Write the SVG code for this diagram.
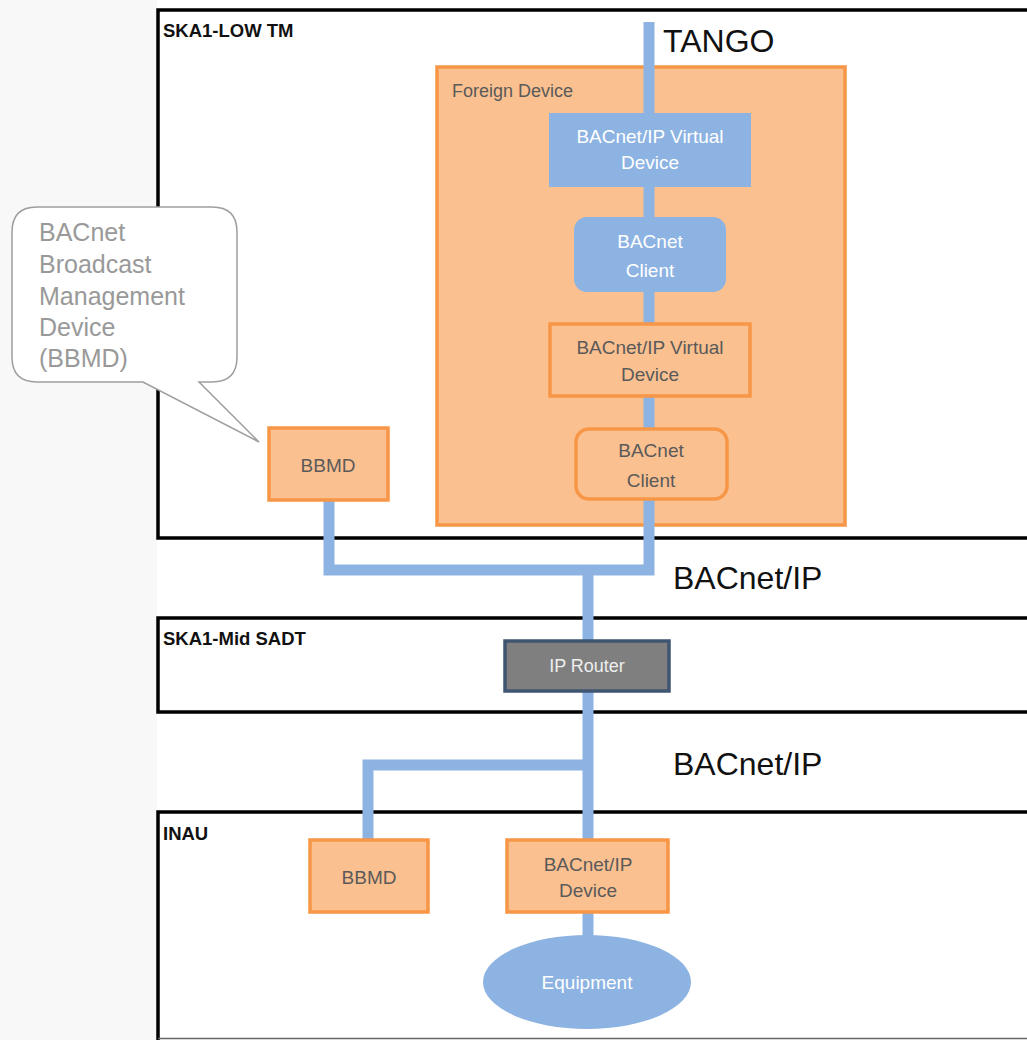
<svg xmlns="http://www.w3.org/2000/svg" width="1027" height="1040" viewBox="0 0 1027 1040">
<style>
text{font-family:"Liberation Sans",Arial,sans-serif}
.frame{fill:#fff;stroke:#000;stroke-width:3.5}
.flabel{font-weight:bold;font-size:18.5px;fill:#111}
.orange{fill:#fac090;stroke:#f79646;stroke-width:3.5}
.blue{fill:#8db3e2;stroke:none}
.wt{fill:#fff;font-size:19px;text-anchor:middle}
.dt{fill:#5a5a5a;font-size:19px;text-anchor:middle}
.big{fill:#111;font-size:32px}
.conn{fill:none;stroke:#8db3e2;stroke-width:11;stroke-linejoin:miter}
.call{fill:#999;font-size:25px}
</style>
<rect x="0" y="0" width="1027" height="1040" fill="#fff"/>
<rect x="0" y="0" width="157" height="1040" fill="#f8f8f8"/>

<g id="frame-low">
<rect class="frame" x="158" y="10" width="880" height="528"/>
<text class="flabel" x="163" y="37">SKA1-LOW TM</text>
</g>
<g id="frame-mid">
<rect class="frame" x="158" y="618" width="880" height="94"/>
<text class="flabel" x="163" y="645">SKA1-Mid SADT</text>
</g>
<g id="frame-inau">
<rect class="frame" x="158" y="812" width="880" height="240"/>
<line x1="158" y1="1038.5" x2="1027" y2="1038.5" stroke="#666" stroke-width="1.5"/>
<text class="flabel" x="163" y="840">INAU</text>
</g>

<g id="foreign-device">
<rect class="orange" x="437" y="67" width="408" height="458"/>
<text x="452" y="97" fill="#5a5a5a" font-size="18">Foreign Device</text>
</g>

<g id="connectors">
<path class="conn" d="M649 22 V570 H329 V500"/>
<path class="conn" d="M588 570 V641"/>
<path class="conn" d="M588 691 V840"/>
<path class="conn" d="M588 765 H368 V840"/>
<path class="conn" d="M588 912 V945"/>
</g>

<g id="tango-label"><text class="big" x="663" y="52" font-size="31">TANGO</text></g>
<g id="bacnetip-label-1"><text class="big" x="673" y="589" font-size="33">BACnet/IP</text></g>
<g id="bacnetip-label-2"><text class="big" x="673" y="775" font-size="33">BACnet/IP</text></g>

<g id="vdev-blue">
<rect class="blue" x="549" y="113" width="202" height="74"/>
<text class="wt" x="650" y="143">BACnet/IP Virtual</text>
<text class="wt" x="650" y="169">Device</text>
</g>
<g id="client-blue">
<rect class="blue" x="574" y="217" width="152" height="75" rx="13"/>
<text class="wt" x="650" y="248">BACnet</text>
<text class="wt" x="650" y="277">Client</text>
</g>
<g id="vdev-orange">
<rect class="orange" x="550" y="324" width="200" height="72"/>
<text class="dt" x="650" y="354">BACnet/IP Virtual</text>
<text class="dt" x="650" y="381">Device</text>
</g>
<g id="client-orange">
<rect class="orange" x="576" y="429" width="151" height="70" rx="13"/>
<text class="dt" x="651" y="457">BACnet</text>
<text class="dt" x="651" y="487">Client</text>
</g>

<g id="bbmd-top">
<rect class="orange" x="269" y="428" width="119" height="72"/>
<text class="dt" x="328" y="472" font-size="17">BBMD</text>
</g>

<g id="ip-router">
<rect x="505" y="641" width="164" height="50" fill="#7f7f7f" stroke="#3f5571" stroke-width="3.5"/>
<text x="587" y="672" fill="#eee" font-size="18" text-anchor="middle">IP Router</text>
</g>

<g id="bbmd-inau">
<rect class="orange" x="310" y="840" width="118" height="72"/>
<text class="dt" x="369" y="884">BBMD</text>
</g>
<g id="bacnet-device">
<rect class="orange" x="507" y="840" width="161" height="72"/>
<text class="dt" x="588" y="871">BACnet/IP</text>
<text class="dt" x="588" y="897">Device</text>
</g>
<g id="equipment">
<ellipse cx="587" cy="982" rx="104" ry="47" fill="#8db3e2"/>
<text class="wt" x="587" y="989">Equipment</text>
</g>

<g id="callout">
<path d="M37 207 H212 Q237 207 237 232 V357 Q237 382 212 382 H199 L259 442 L143 382 H37 Q12 382 12 357 V232 Q12 207 37 207 Z" fill="#fff" stroke="#9e9e9e" stroke-width="1.5"/>
<text class="call" x="39" y="241">BACnet</text>
<text class="call" x="39" y="273">Broadcast</text>
<text class="call" x="39" y="305">Management</text>
<text class="call" x="39" y="336">Device</text>
<text class="call" x="39" y="367">(BBMD)</text>
</g>
</svg>
